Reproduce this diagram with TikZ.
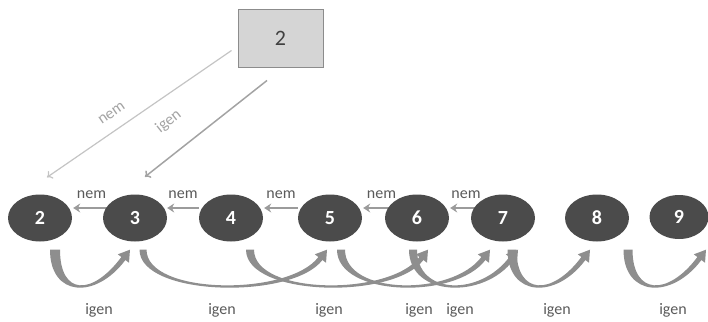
\documentclass[tikz,border=0pt]{standalone}
\usepackage{fontspec}
\setmainfont{Carlito}
\usetikzlibrary{arrows.meta,calc,shapes.geometric,backgrounds}

\definecolor{statefill}{HTML}{4B4B4B}
\definecolor{boxfill}{HTML}{D5D5D5}
\definecolor{boxline}{HTML}{8C8C8C}
\definecolor{nemline}{HTML}{9B9B9B}
\definecolor{diagnemline}{HTML}{C4C4C4}
\definecolor{diagigenline}{HTML}{A3A3A3}
\definecolor{igenarc}{HTML}{8E8E8E}
\definecolor{labeltext}{HTML}{5A5A5A}

% Curved "igen" arrow under the row: from node #1 (x offset #2)
% to node #3 (tip x offset #4); #5 is half the band width at the start.
\newcommand\igenarc[5]{%
  \path[igenband] let \p1=($(#1.south)+(#2,8)$), \p2=($(#3.south)+(#4,8)$) in
    ({\x1-#5pt},\y1) .. controls ({\x1-#5pt},{\y1-47pt}) and ({\x2-34.6pt},{\y1-50.3pt})
      .. ({\x2-4.6pt},{\y1-10.3pt})
    -- ({\x2-1pt},{\y1-13pt}) -- (\x2,\y1) -- ({\x2-12.2pt},{\y1-4.6pt})
    -- ({\x2-8.6pt},{\y1-7.3pt})
      .. controls ({\x2-38.3pt},{\y1-46.9pt}) and ({\x1+#5pt},{\y1-45.5pt})
      .. ({\x1+#5pt},\y1) -- cycle;}

\begin{document}
\begin{tikzpicture}[x=1pt,y=-1pt,
  state/.style={ellipse,fill=statefill,minimum width=64pt,minimum height=47pt,
    inner sep=0pt,text=white,font=\fontsize{20}{22}\selectfont\bfseries},
  startbox/.style={rectangle,fill=boxfill,draw=boxline,line width=1pt,
    minimum width=85pt,minimum height=57pt,text=black!75,
    font=\fontsize{22}{24}\selectfont},
  nemarrow/.style={draw=nemline,line width=2.5pt,-{Stealth[length=7pt,width=9pt]}},
  diagnem/.style={draw=diagnemline,line width=1.2pt,-{To[length=5pt,width=9pt]}},
  diagigen/.style={draw=diagigenline,line width=1.5pt,-{To[length=5pt,width=9pt]}},
  igenband/.style={fill=igenarc},
  nemlabel/.style={text=labeltext,font=\fontsize{16}{18}\selectfont},
  igenlabel/.style={text=labeltext,font=\fontsize{16}{18}\selectfont},
  diaglabel/.style={text=diagigenline,font=\fontsize{16}{18}\selectfont}]
\useasboundingbox (0,0) rectangle (708,321);

% start box
\node[startbox] (box) at (280.5,38.5) {2};

% row of states
\node[state] (n2) at (40,218) {2};
\node[state] (n3) at (135,218) {3};
\node[state] (n4) at (231,218) {4};
\node[state] (n5) at (330,218) {5};
\node[state] (n6) at (417,218) {6};
\node[state] (n7) at (503,218) {7};
\node[state] (n8) at (597,218) {8};
\node[state,minimum width=59pt,minimum height=44pt] (n9) at (679,217) {9};

\begin{scope}[on background layer]
  % from the start box into the row
  \draw[diagnem] ([shift={(-6,12)}]box.west) -- ([shift={(7,-17)}]n2.north)
    node[diaglabel,pos=0.6,sloped,above=8pt] {nem};
  \draw[diagigen] ([shift={(-13.5,13)}]box.south) -- ([shift={(10,-17.5)}]n3.north)
    node[diaglabel,pos=0.66,sloped,above=18pt] {igen};

  % "nem" steps back along the row
  \draw[nemarrow] ([shift={(7,-10)}]n3.west) -- ([shift={(1,-10)}]n2.east)
    node[nemlabel,midway,yshift=13pt] {nem};
  \draw[nemarrow] ([shift={(0,-10)}]n4.west) -- ([shift={(0,-10)}]n3.east)
    node[nemlabel,midway,yshift=13pt] {nem};
  \draw[nemarrow] ([shift={(0,-10)}]n5.west) -- ([shift={(1,-10)}]n4.east)
    node[nemlabel,midway,yshift=13pt] {nem};
  \draw[nemarrow] ([shift={(15,-10)}]n6.west) -- ([shift={(1,-10)}]n5.east)
    node[nemlabel,midway,yshift=13pt] {nem};
  \draw[nemarrow] ([shift={(11,-10)}]n7.west) -- ([shift={(1,-10)}]n6.east)
    node[nemlabel,midway,yshift=13pt] {nem};
\end{scope}

% "igen" jumps forward under the row
\igenarc{n2}{15}{n3}{-5}{5}
\igenarc{n3}{8}{n5}{-3}{3.5}
\igenarc{n4}{19}{n6}{11}{4}
\igenarc{n5}{11}{n7}{-13}{4}
\igenarc{n6}{-4}{n7}{15}{4}
\igenarc{n7}{9}{n8}{-7}{4.5}
\igenarc{n8}{31}{n9}{27}{4.5}

% labels of the forward jumps
\node[igenlabel] (l1) at (99,310) {igen};
\node[igenlabel] (l2) at (222,310) {igen};
\node[igenlabel] (l3) at (329,310) {igen};
\node[igenlabel] (l4) at (419,310) {igen};
\node[igenlabel] (l5) at (460,310) {igen};
\node[igenlabel] (l6) at (557,310) {igen};
\node[igenlabel] (l7) at (673,310) {igen};
\end{tikzpicture}
\end{document}
